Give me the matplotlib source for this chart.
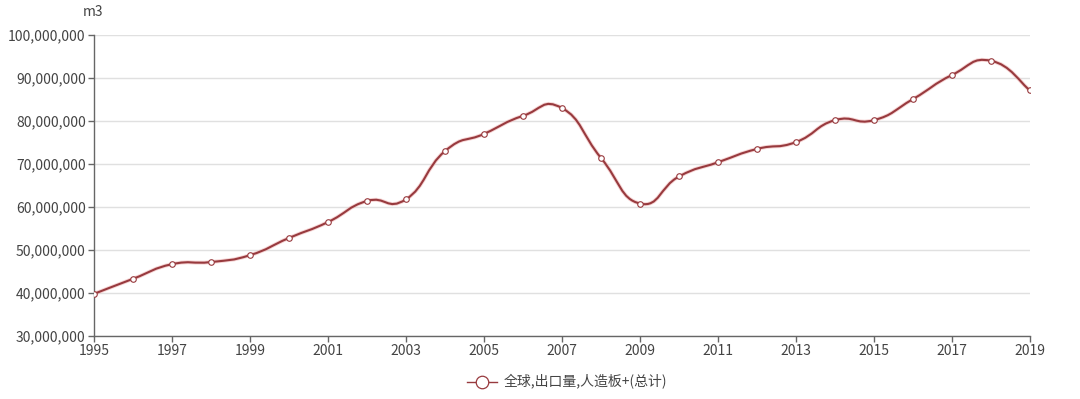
import numpy as np
import matplotlib
matplotlib.use('Agg')
import matplotlib.pyplot as plt
from matplotlib.path import Path
from matplotlib.patches import PathPatch
from matplotlib.lines import Line2D
from matplotlib.ticker import FuncFormatter, MultipleLocator

plt.rcParams['font.family'] = ['Noto Sans CJK SC', 'DejaVu Sans']

# data (m3)
years = [1995, 1996, 1997, 1998, 1999, 2000, 2001, 2002, 2003, 2004, 2005, 2006,
         2007, 2008, 2009, 2010, 2011, 2012, 2013, 2014, 2015, 2016, 2017, 2018, 2019]
exports = [39.8e6, 43.3e6, 46.7e6, 47.2e6, 48.8e6, 52.8e6, 56.5e6, 61.4e6, 61.8e6,
           73.0e6, 77.0e6, 81.2e6, 83.0e6, 71.4e6, 60.8e6, 67.1e6, 70.4e6, 73.5e6,
           75.1e6, 80.2e6, 80.2e6, 85.1e6, 90.7e6, 94.0e6, 87.1e6]
year_ticks = years[::2]
series_name = '全球,出口量,人造板+(总计)'

LINE = '#983a3e'
GLOW = '#f0b8b8'
TEXT = '#444444'
AXIS = '#666666'


def smooth_path(xs, ys, k=0.25):
    # bezier path through the points (echarts style smoothing)
    xs = np.asarray(xs, float)
    ys = np.asarray(ys, float)
    verts = [(xs[0], ys[0])]
    codes = [Path.MOVETO]
    n = len(xs)
    for i in range(n - 1):
        p0 = i - 1 if i > 0 else i
        p3 = i + 2 if i + 2 < n else i + 1
        c1 = (xs[i] + k * (xs[i + 1] - xs[p0]), ys[i] + k * (ys[i + 1] - ys[p0]))
        c2 = (xs[i + 1] - k * (xs[p3] - xs[i]), ys[i + 1] - k * (ys[p3] - ys[i]))
        verts += [c1, c2, (xs[i + 1], ys[i + 1])]
        codes += [Path.CURVE4] * 3
    return Path(verts, codes)


fig = plt.figure(figsize=(10.8, 3.99), dpi=100)
ax = fig.add_axes([94 / 1080, 63 / 399, 936 / 1080, 301 / 399])

path = smooth_path(years, exports)
ax.add_patch(PathPatch(path, facecolor='none', edgecolor=GLOW, lw=2.8, alpha=0.6, zorder=2))
ax.add_patch(PathPatch(path, facecolor='none', edgecolor=LINE, lw=1.5, zorder=3))
ax.plot(years, exports, linestyle='none', marker='o', ms=4.0, mfc='white',
        mec=LINE, mew=0.8, zorder=4)

ax.set_xlim(1995, 2019)
ax.set_ylim(30e6, 100e6)
ax.set_xticks(year_ticks)
ax.yaxis.set_major_locator(MultipleLocator(10e6))
ax.yaxis.set_major_formatter(FuncFormatter(lambda v, p: '{:,.0f}'.format(v)))

ax.grid(axis='y', color='#e0e0e0', lw=1)
ax.set_axisbelow(True)
for s in ['top', 'right']:
    ax.spines[s].set_visible(False)
for s in ['left', 'bottom']:
    ax.spines[s].set_color(AXIS)
    ax.spines[s].set_linewidth(1)
ax.tick_params(axis='both', colors=AXIS, labelcolor=TEXT, labelsize=10,
               length=4, width=1, direction='out', pad=2)

fig.text(93 / 1080, 1 - 12 / 399, 'm3', ha='center', va='center', fontsize=10, color=TEXT)

handle = Line2D([], [], color=LINE, lw=1.0, marker='o', ms=9, mfc='white', mec=LINE, mew=0.9)
fig.legend([handle], [series_name], loc='center', bbox_to_anchor=(0.525, 1 - 382 / 399),
           frameon=False, fontsize=10, handlelength=2.2, handletextpad=0.5,
           labelcolor=TEXT)

fig.savefig('out.png', dpi=100)
